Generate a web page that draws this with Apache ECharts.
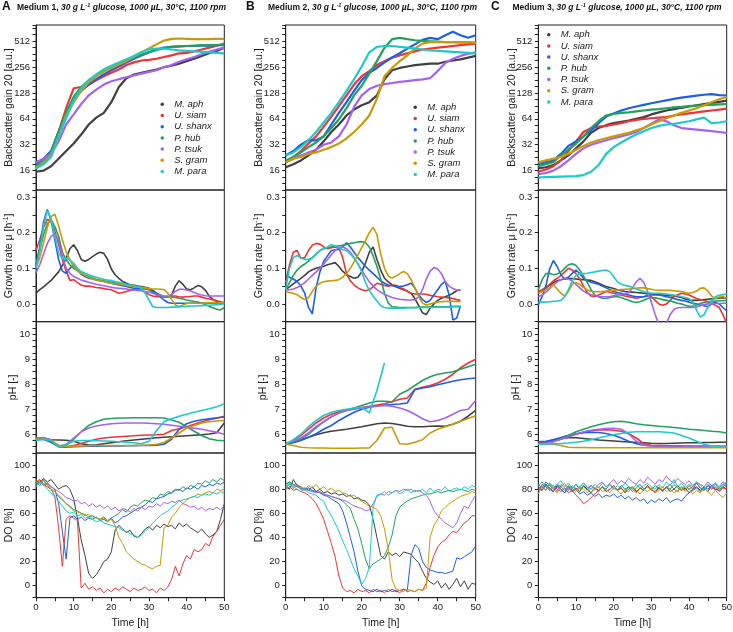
<!DOCTYPE html>
<html><head><meta charset="utf-8">
<script src="https://cdn.jsdelivr.net/npm/echarts@6/dist/echarts.min.js"></script>
<style>html,body{margin:0;padding:0;background:#fff}#c{width:733px;height:632px}</style>
</head><body><div id="c"></div>
<script>
const NAMES = ['M. aph','U. siam','U. shanx','P. hub','P. tsuk','S. gram','M. para'];
const COLORS = ['#404040','#f03434','#1f5ee6','#22a05e','#a561f0','#c99a06','#1ccaca'];
const T2 = Array.from({length:26},(_,i)=>i*2);
const T1 = Array.from({length:51},(_,i)=>i);

// ---------- Medium 1 (A) ----------
const bsA_aph  = [15.5,16,18,22,27,33,42,55,66,75,100,150,190,210,220,230,240,255,265,280,300,320,345,370,395,430];
const bsA_siam = [18,21,26,45,85,145,150,160,180,200,220,240,270,290,305,310,320,335,350,370,375,390,410,430,455,480];
const bsA_shanx= [19,22,27,45,75,110,135,160,185,210,235,260,290,320,350,380,410,430,440,445,450,450,455,455,460,460];
const bsA_hub  = [18,21,26,45,75,115,150,180,205,230,255,280,305,330,355,380,405,425,440,445,450,455,460,460,462,465];
const bsA_tsuk = [20,22,25,35,55,72,95,120,140,160,175,185,195,205,215,225,235,255,270,295,315,335,360,385,410,430];
const bsA_gram = [17,20,24,40,70,100,135,170,200,225,250,275,300,340,380,420,470,520,545,550,545,540,540,540,545,545];
const bsA_para = [17,19,23,40,65,105,145,180,210,240,265,290,315,345,380,410,420,420,410,400,395,390,385,380,375,370];

const grA_aph  = [.030,.040,.048,.057,.066,.078,.090,.108,.128,.155,.166,.150,.125,.120,.125,.133,.140,.145,.142,.125,.098,.082,.072,.063,.058,.054,.052,.050,.049,.047,.044,.038,.030,.025,.020,.020,.025,.050,.065,.055,.042,.040,.045,.052,.048,.038,.022,.012,.007,.004,.002];
const grA_siam = [.150,.180,.215,.238,.232,.205,.168,.125,.092,.066,.068,.060,.053,.050,.050,.048,.046,.045,.043,.041,.040,.035,.030,.032,.035,.038,.040,.040,.038,.032,.026,.022,.020,.021,.020,.020,.022,.022,.020,.019,.020,.021,.022,.022,.019,.016,.014,.012,.009,.006,.004];
const grA_shanx= [.110,.160,.230,.265,.235,.180,.125,.092,.086,.100,.110,.097,.083,.077,.072,.070,.067,.065,.063,.060,.058,.055,.053,.051,.049,.046,.044,.044,.043,.042,.040,.035,.030,.020,.011,.004,.002,.002,.002,.002,.002,.002,.002,.002,.002,.002,.002,.002,.002,.002,.002];
const grA_hub  = [.105,.150,.195,.225,.236,.217,.190,.145,.124,.110,.100,.093,.086,.081,.077,.073,.069,.067,.065,.063,.061,.059,.058,.055,.053,.051,.049,.048,.047,.044,.040,.032,.025,.022,.020,.020,.019,.018,.016,.014,.011,.009,.007,.005,.002,-.002,-.007,-.011,-.015,-.017,-.010];
const grA_tsuk = [.088,.110,.140,.170,.190,.196,.180,.135,.100,.086,.077,.072,.067,.064,.061,.058,.055,.053,.051,.049,.047,.045,.044,.043,.042,.040,.039,.038,.037,.035,.033,.030,.027,.024,.022,.023,.026,.035,.041,.041,.039,.036,.032,.028,.025,.023,.022,.022,.022,.022,.022];
const grA_gram = [.100,.130,.170,.215,.245,.252,.220,.180,.147,.124,.105,.095,.086,.080,.075,.071,.067,.065,.063,.060,.058,.057,.056,.054,.052,.050,.049,.048,.047,.045,.043,.042,.042,.041,.040,.030,.012,-.003,-.007,-.003,.001,.002,.002,.002,.002,.003,.003,.003,.003,.003,.003];
const grA_para = [.100,.150,.220,.262,.240,.190,.142,.128,.128,.124,.114,.100,.091,.086,.082,.078,.075,.072,.069,.067,.066,.063,.061,.058,.055,.053,.051,.048,.044,.030,.011,-.008,-.010,-.010,-.010,-.010,-.009,-.009,-.008,-.008,-.007,-.006,-.006,-.005,-.005,-.004,-.004,-.003,-.002,-.001,.000];

const phA_aph  = [5.80,5.82,5.78,5.77,5.76,5.72,5.62,5.57,5.58,5.62,5.66,5.70,5.74,5.77,5.80,5.83,5.86,5.88,5.90,5.92,5.94,5.96,5.98,6.01,6.06,6.45];
const phA_siam = [5.80,5.82,5.72,5.55,5.50,5.55,5.63,5.72,5.80,5.85,5.88,5.90,5.92,5.94,5.96,5.97,5.98,6.00,6.15,6.22,6.30,6.40,6.50,6.58,6.64,6.72];
const phA_shanx= [5.78,5.80,5.68,5.50,5.48,5.50,5.51,5.52,5.52,5.53,5.53,5.53,5.54,5.54,5.55,5.55,5.56,5.60,5.80,6.20,6.42,6.52,6.58,6.62,6.66,6.69];
const phA_hub  = [5.85,5.85,5.75,5.50,5.55,5.80,6.10,6.35,6.50,6.60,6.63,6.65,6.65,6.66,6.66,6.66,6.66,6.65,6.57,6.48,6.30,6.12,5.95,5.82,5.76,5.74];
const phA_tsuk = [5.85,5.87,5.78,5.52,5.60,5.85,6.10,6.25,6.33,6.38,6.42,6.44,6.45,6.45,6.45,6.44,6.42,6.40,6.36,6.32,6.28,6.24,6.20,6.14,6.08,6.00];
const phA_gram = [5.80,5.82,5.75,5.55,5.50,5.52,5.53,5.54,5.55,5.55,5.55,5.55,5.55,5.56,5.56,5.57,5.60,5.67,5.85,6.05,6.25,6.35,6.45,6.50,6.53,6.55];
const phA_para = [5.75,5.80,5.75,5.50,5.60,5.72,5.75,5.75,5.74,5.73,5.72,5.70,5.68,5.66,5.62,5.72,6.15,6.50,6.62,6.72,6.80,6.88,6.95,7.02,7.10,7.22];

const doA_aph  = [87,85,89,86,88,84,80,82,83,80,72,56,38,25,10,6,9,14,20,22,28,46,50,47,44,46,41,40,43,47,49,46,50,48,51,49,50,47,52,49,51,48,46,44,47,43,40,42,45,55,68];
const doA_siam = [86,88,84,82,80,74,48,16,55,58,56,54,-2,2,-3,-1,-4,-2,-6,-3,-5,-2,-4,-1,-3,-5,-2,-4,-3,-1,-4,-3,-6,-2,-4,-1,5,16,8,18,25,22,30,28,30,35,33,41,45,50,55];
const doA_shanx= [85,87,84,85,82,80,68,45,22,56,58,55,57,54,56,55,57,54,55,53,56,52,54,57,58,60,62,64,65,67,70,69,72,73,74,76,77,79,80,78,81,80,82,80,83,82,84,83,85,84,86];
const doA_hub  = [86,83,88,84,80,78,74,71,68,66,63,62,60,59,57,58,56,55,57,54,56,58,60,63,61,65,67,66,69,71,70,73,72,76,75,78,77,80,79,82,80,83,82,85,84,87,85,88,86,89,87];
const doA_tsuk = [84,86,83,85,82,80,78,76,73,72,70,71,68,69,66,68,65,67,64,66,63,65,62,64,63,61,64,62,65,63,66,65,68,66,69,68,70,69,71,68,67,65,66,63,65,62,64,63,65,63,66];
const doA_gram = [88,85,87,83,80,78,75,72,68,65,62,61,60,58,59,57,56,55,56,54,55,50,40,35,28,25,22,20,18,17,15,14,16,17,48,50,57,60,65,68,71,73,74,76,75,77,78,77,80,79,80];
const doA_para = [82,86,84,80,77,73,70,66,62,60,61,58,59,56,57,55,53,54,52,51,50,49,48,46,45,43,42,40,42,45,48,52,55,58,60,62,65,67,70,71,72,73,74,73,75,76,75,77,76,78,77];

// ---------- Medium 2 (B) ----------
const bsB_aph  = [17.5,19,21,24,28,35,45,55,70,82,92,100,120,185,235,250,260,270,275,280,280,295,305,315,330,345];
const bsB_siam = [20,23,27,33,40,52,68,90,120,160,200,230,270,300,330,350,370,390,410,420,430,440,450,460,470,480];
const bsB_shanx= [24,27,32,36,36,40,55,75,100,135,180,220,250,290,330,370,420,470,530,560,540,600,660,600,560,600];
const bsB_hub  = [21,23,26,30,34,40,50,63,85,120,155,215,300,430,540,560,540,525,515,510,505,500,500,495,495,490];
const bsB_tsuk = [20,22,24,26,28,32,34,40,55,88,120,142,155,162,167,172,176,180,184,190,230,285,320,345,365,380];
const bsB_gram = [20,22,23,25,26,28,30,33,38,45,55,70,110,200,250,300,350,420,480,500,500,500,500,500,500,490];
const bsB_para = [24,26,30,36,45,58,75,100,135,185,260,380,440,450,450,440,430,420,410,400,395,390,385,380,375,370];

const grB_aph  = [.040,.048,.056,.064,.072,.080,.090,.096,.100,.103,.106,.110,.113,.116,.105,.092,.082,.077,.072,.075,.090,.115,.145,.160,.125,.095,.072,.062,.054,.048,.044,.040,.036,.030,.015,-.005,-.025,-.030,-.012,.000,.010,.016,.020,.024,.030,.037,.040,null,null,null,null];
const grB_siam = [.060,.110,.145,.150,.128,.130,.150,.165,.170,.168,.160,.155,.158,.160,.158,.130,.085,.065,.053,.045,.040,.037,.040,.048,.058,.055,.052,.050,.053,.052,.046,.042,.035,.030,.028,.028,.028,.027,.024,.022,.020,.019,.018,.017,.015,.012,.010,null,null,null,null];
const grB_shanx= [.080,.075,.070,.063,.050,.030,-.010,-.028,.045,.090,.120,.135,.150,.152,.153,.160,.172,.160,.145,.130,.118,.105,.095,.085,.075,.065,.058,.053,.051,.050,.049,.050,.054,.058,.045,.025,.012,.004,.010,.025,.040,.055,.063,.025,-.045,-.040,-.005,null,null,null,null];
const grB_hub  = [.040,.060,.080,.095,.105,.112,.120,.130,.140,.150,.156,.158,.160,.162,.163,.165,.167,.170,.172,.174,.175,.172,.160,.135,.105,.070,.030,.002,-.008,-.009,-.010,-.010,-.010,-.010,-.010,-.009,-.009,-.009,-.009,-.008,-.008,-.008,-.008,-.008,-.007,-.007,-.007,null,null,null,null];
const grB_tsuk = [.040,.040,.042,.046,.052,.060,.070,.080,.090,.100,.112,.125,.138,.150,.158,.160,.155,.145,.130,.112,.095,.078,.062,.050,.040,.033,.027,.022,.018,.015,.013,.012,.011,.011,.012,.020,.040,.070,.092,.102,.098,.085,.062,.050,.043,.039,.038,null,null,null,null];
const grB_gram = [.035,.032,.030,.026,.018,.012,.018,.035,.050,.058,.062,.064,.065,.066,.068,.075,.085,.100,.118,.138,.158,.178,.200,.215,.195,.140,.100,.078,.073,.078,.085,.091,.085,.068,.045,.020,.002,-.003,.000,.003,.005,.006,.007,.007,.007,.007,.006,null,null,null,null];
const grB_para = [.040,.100,.130,.136,.130,.125,.125,.130,.140,.150,.155,.160,.166,.163,.158,.152,.150,.140,.128,.114,.090,.060,.038,.022,.008,-.005,-.010,-.012,-.012,-.012,-.012,-.012,-.011,-.011,-.011,-.010,-.010,-.010,-.010,-.010,-.009,-.009,-.009,-.009,-.008,-.008,-.008,null,null,null,null];

const phB_aph  = [5.60,5.68,5.78,5.88,5.98,6.06,6.12,6.16,6.20,6.25,6.30,6.36,6.42,6.45,6.43,6.38,6.32,6.30,6.30,6.32,6.33,6.32,6.40,6.52,6.72,6.95];
const phB_siam = [5.60,5.75,5.95,6.20,6.45,6.65,6.80,6.90,6.97,7.02,7.07,7.12,7.17,7.22,7.30,7.40,7.45,7.80,7.88,7.95,8.05,8.20,8.40,8.65,8.85,9.00];
const phB_shanx= [5.60,5.66,5.75,5.88,6.02,6.20,6.35,6.55,6.72,6.88,7.00,7.08,7.13,7.16,7.19,7.21,7.25,7.78,7.85,7.90,7.98,8.05,8.12,8.18,8.22,8.25];
const phB_hub  = [5.60,5.70,5.82,6.00,6.25,6.50,6.70,6.85,6.95,7.05,7.15,7.25,7.32,7.32,7.30,7.60,7.75,7.95,8.15,8.30,8.40,8.45,8.50,8.60,8.70,8.80];
const phB_tsuk = [5.65,5.72,5.85,6.05,6.30,6.50,6.70,6.85,6.95,7.00,7.05,7.10,7.13,7.15,7.12,7.05,6.95,6.80,6.62,6.50,6.55,6.65,6.80,6.95,7.00,7.35];
const phB_gram = [5.60,5.55,5.48,5.46,5.45,5.45,5.44,5.44,5.44,5.44,5.45,5.45,5.75,6.25,6.28,5.62,5.60,5.68,5.78,6.05,6.20,6.30,6.40,6.52,6.63,6.74];
const phB_para = [5.60,5.78,6.00,6.30,6.55,6.75,6.88,6.95,7.00,7.05,7.08,6.85,7.75,8.85,null,null,null,null,null,null,null,null,null,null,null,null];

const doB_aph  = [82,80,88,83,80,81,79,82,78,80,77,78,76,77,75,76,74,75,72,73,71,70,67,55,40,25,22,28,25,27,24,28,27,26,22,19,12,6,3,1,4,-2,2,-3,1,6,-1,4,-3,2,1];
const doB_siam = [80,82,79,80,78,77,75,72,68,62,55,45,35,24,8,-2,-5,-4,-6,-3,-5,-4,-6,-3,-5,-4,-6,-3,-5,-4,-6,-3,-5,-4,-5,-3,-4,2,15,25,32,36,38,42,45,44,48,52,54,58,58];
const doB_shanx= [84,86,84,83,82,80,81,79,78,77,75,74,72,70,68,62,52,40,28,12,0,-3,-4,-5,-3,-5,-4,-5,-3,-5,-4,-3,-4,25,34,31,20,15,13,12,11,11,10,11,12,23,22,24,26,28,33];
const doB_hub  = [84,86,83,82,81,80,79,78,78,77,76,75,74,73,72,70,67,64,55,47,35,22,14,18,20,22,25,32,42,58,65,68,70,72,73,74,75,76,76,77,78,77,78,79,78,79,80,79,78,80,79];
const doB_tsuk = [82,84,81,83,80,79,81,78,77,78,76,75,74,73,72,71,70,68,66,65,64,62,63,68,74,76,75,78,77,79,78,80,79,80,78,79,77,75,70,62,58,55,52,50,48,52,60,66,64,70,75];
const doB_gram = [82,85,80,84,82,80,83,81,84,80,82,79,81,78,79,77,76,74,75,72,70,68,66,65,63,58,47,30,5,-3,-4,-5,-3,-4,-5,-3,-4,-2,40,50,55,62,65,68,70,72,74,75,76,78,77];
const doB_para = [80,85,82,80,78,80,77,76,75,72,70,63,58,52,45,37,30,22,14,8,1,6,15,65,75,76,78,75,77,79,76,78,80,77,79,78,80,77,81,78,80,79,82,78,80,81,79,82,80,83,82];

// ---------- Medium 3 (C) ----------
const bsC_aph  = [17,17.5,18.5,21,24,29,35,44,50,54,57,59,61,64,67,72,76,80,83,86,89,92,95,98,101,104];
const bsC_siam = [15.5,16.5,18,21,27,35,45,50,52,53,55,57,60,62,64,65,66,67,70,72,74,76,78,80,82,84];
const bsC_shanx= [19,20,21,25,31,35,40,47,57,68,74,80,85,89,93,97,101,105,109,113,116,119,122,124,121,120];
const bsC_hub  = [18,19,20,24,28,33,40,50,60,70,73,75,76,78,80,82,83,85,87,88,90,91,92,93,94,95];
const bsC_tsuk = [14.5,15,16,18,21,25,29,32,34,36,38,40,42,45,50,56,63,60,54,50,49,48,47,46,45,44];
const bsC_gram = [20,21,22,23,25,28,31,34,36,38,40,42,44,47,50,55,60,65,70,75,80,85,92,100,108,115];
const bsC_para = [13.3,13.4,13.5,13.6,13.7,13.8,14.2,15.5,18.5,25,30,34,38,42,46,50,53,55,56,58,60,63,66,57,58,60];

const grC_aph  = [.030,.036,.045,.052,.060,.065,.068,.070,.071,.071,.070,.069,.068,.067,.066,.062,.058,.053,.049,.046,.043,.040,.037,.035,.034,.033,.032,.031,.030,.029,.028,.027,.026,.025,.024,.023,.022,.020,.018,.014,.011,.010,.010,.011,.012,.013,.014,.015,.016,.017,.017];
const grC_siam = [.035,.040,.046,.055,.065,.072,.080,.090,.100,.095,.085,.070,.050,.032,.022,.020,.025,.030,.035,.033,.030,.027,.025,.022,.020,.018,.016,.018,.020,.024,.020,.010,.000,-.004,.000,.010,.020,.026,.030,.028,.025,.020,.015,.012,.010,.006,.002,-.004,-.010,-.030,-.055];
const grC_shanx= [-.003,.020,.050,.098,.122,.105,.082,.070,.075,.086,.095,.085,.072,.065,.061,.058,.055,.050,.045,.040,.035,.032,.030,.027,.025,.022,.020,.020,.020,.022,.025,.025,.025,.023,.020,.018,.015,.012,.010,.008,.005,.002,.000,-.003,-.005,-.008,.000,.005,.000,-.010,-.020];
const grC_hub  = [.040,.068,.085,.086,.082,.084,.090,.100,.110,.113,.108,.095,.078,.060,.040,.025,.020,.016,.015,.018,.020,.020,.018,.014,.010,.006,.004,.006,.010,.015,.018,.017,.015,.012,.010,.008,.005,.002,.000,-.004,-.007,-.006,-.003,.001,.004,.006,.007,.008,.009,.009,.010];
const grC_tsuk = [.020,.025,.033,.043,.053,.062,.068,.072,.070,.064,.055,.045,.036,.030,.026,.023,.021,.020,.020,.021,.023,.025,.026,.028,.032,.045,.062,.072,.060,.035,.005,-.030,-.058,-.065,-.055,-.030,-.016,-.011,-.010,-.010,-.010,-.010,-.009,-.005,-.002,.000,.000,.001,.001,.002,.002];
const grC_gram = [.030,.035,.040,.045,.054,.042,.030,.022,.035,.055,.060,.055,.046,.039,.035,.034,.034,.035,.036,.037,.038,.039,.040,.041,.042,.043,.044,.045,.045,.043,.041,.039,.038,.038,.038,.038,.037,.036,.035,.032,.030,.032,.036,.044,.045,.036,.022,.016,.019,.021,.016];
const grC_para = [.005,.005,.005,.006,.007,.008,.010,.020,.040,.065,.080,.085,.085,.086,.088,.090,.092,.094,.095,.090,.076,.062,.056,.052,.050,.046,.042,.038,.035,.032,.030,.030,.030,.029,.028,.026,.025,.023,.020,.018,.015,.005,-.018,-.037,-.030,-.010,.010,.020,.024,.026,.028];

const phC_aph  = [5.62,5.68,5.78,5.84,5.86,5.86,5.83,5.80,5.77,5.75,5.73,5.71,5.69,5.67,5.66,5.64,5.63,5.63,5.64,5.65,5.66,5.66,5.67,5.67,5.68,5.68];
const phC_siam = [5.65,5.67,5.72,5.80,5.90,6.00,6.08,6.14,6.17,6.18,6.16,6.12,6.02,5.85,5.62,5.56,5.55,5.54,5.54,5.54,5.53,5.53,5.53,5.52,5.52,5.52];
const phC_shanx= [5.70,5.72,5.78,5.87,5.96,6.02,6.06,6.08,6.07,6.03,5.96,5.85,5.72,5.62,5.56,5.54,5.53,5.52,5.52,5.51,5.51,5.50,5.50,5.50,5.50,5.50];
const phC_hub  = [5.62,5.65,5.70,5.82,5.95,6.10,6.20,6.30,6.38,6.45,6.50,6.52,6.48,6.42,6.38,6.35,6.32,6.30,6.27,6.24,6.20,6.18,6.15,6.12,6.10,6.05];
const phC_tsuk = [5.62,5.65,5.70,5.80,5.90,6.00,6.10,6.16,6.20,6.23,6.24,6.20,6.02,5.72,5.56,5.53,5.52,5.52,5.52,5.52,5.52,5.52,5.52,5.52,5.52,5.52];
const phC_gram = [5.60,5.60,5.60,5.55,5.48,5.47,5.47,5.46,5.46,5.46,5.46,5.46,5.46,5.46,5.46,5.46,5.46,5.46,5.46,5.46,5.46,5.46,5.46,5.46,5.46,5.46];
const phC_para = [5.60,5.61,5.62,5.63,5.65,5.68,5.72,5.78,5.85,5.92,5.98,6.03,6.08,6.10,6.10,6.10,6.10,6.08,6.05,5.95,5.85,5.72,5.60,5.53,5.50,5.48];

const doC_aph  = [82,79,84,80,78,83,80,77,82,79,81,78,83,80,77,81,79,82,78,80,83,79,81,77,80,82,78,81,79,83,80,77,81,79,82,78,80,83,79,81,77,80,82,79,81,78,83,80,79,82,80];
const doC_siam = [78,84,82,79,83,80,78,81,77,79,75,72,68,70,73,76,79,82,78,80,83,79,81,78,82,80,77,81,79,83,80,78,82,79,81,84,80,78,82,79,83,80,85,81,79,83,80,82,78,81,80];
const doC_shanx= [82,79,84,81,78,82,80,77,81,78,80,76,78,75,77,74,76,73,75,74,76,73,75,72,74,71,73,70,72,68,71,69,72,70,73,69,71,72,70,74,77,79,81,78,82,80,83,79,81,84,82];
const doC_hub  = [84,81,86,83,80,84,82,79,83,81,84,80,82,79,83,81,78,82,80,84,81,79,83,80,82,78,81,84,80,82,79,83,81,78,82,80,84,81,79,83,80,82,85,81,79,83,81,84,80,82,85];
const doC_tsuk = [80,83,79,85,82,78,84,81,79,83,80,82,85,81,83,80,84,86,82,85,88,84,87,85,89,86,84,88,85,90,87,84,88,86,91,87,85,89,86,84,87,83,86,84,82,86,83,85,82,86,84];
const doC_gram = [76,82,79,84,80,77,82,85,79,81,78,82,80,77,81,79,82,78,80,77,81,79,76,80,78,82,79,76,80,78,81,77,79,82,78,80,77,79,81,78,80,76,79,77,81,78,75,79,76,73,77];
const doC_para = [83,86,82,85,81,84,87,82,85,80,84,81,85,82,80,84,81,85,82,84,80,83,81,85,82,80,84,81,83,85,82,80,84,81,86,83,88,82,85,81,84,82,86,83,80,84,82,85,81,84,86];

const PANELS = [
  [[bsA_aph,bsA_siam,bsA_shanx,bsA_hub,bsA_tsuk,bsA_gram,bsA_para],
   [grA_aph,grA_siam,grA_shanx,grA_hub,grA_tsuk,grA_gram,grA_para],
   [phA_aph,phA_siam,phA_shanx,phA_hub,phA_tsuk,phA_gram,phA_para],
   [doA_aph,doA_siam,doA_shanx,doA_hub,doA_tsuk,doA_gram,doA_para]],
  [[bsB_aph,bsB_siam,bsB_shanx,bsB_hub,bsB_tsuk,bsB_gram,bsB_para],
   [grB_aph,grB_siam,grB_shanx,grB_hub,grB_tsuk,grB_gram,grB_para],
   [phB_aph,phB_siam,phB_shanx,phB_hub,phB_tsuk,phB_gram,phB_para],
   [doB_aph,doB_siam,doB_shanx,doB_hub,doB_tsuk,doB_gram,doB_para]],
  [[bsC_aph,bsC_siam,bsC_shanx,bsC_hub,bsC_tsuk,bsC_gram,bsC_para],
   [grC_aph,grC_siam,grC_shanx,grC_hub,grC_tsuk,grC_gram,grC_para],
   [phC_aph,phC_siam,phC_shanx,phC_hub,phC_tsuk,phC_gram,phC_para],
   [doC_aph,doC_siam,doC_shanx,doC_hub,doC_tsuk,doC_gram,doC_para]]
];
const TIMES = [T2, T1, T2, T1];
const TITLES = ['Medium 1','Medium 2','Medium 3'];
const LETTERS = ['A','B','C'];

// ---------- layout ----------
const FONT = '"Liberation Sans", Arial, sans-serif';
const COLS = [{left:36, width:188.3, letter:2, title:17, lgL:160.5, lgT:98.8},
              {left:285.7, width:190, letter:246, title:268, lgL:413.5, lgT:101.8},
              {left:538.3, width:188.4, letter:491, title:512.5, lgL:547, lgT:29.2}];
const ROWS = [{top:25, height:165}, {top:190, height:131.7}, {top:321.7, height:131.3}, {top:453, height:144.7}];
const isInt = (v, s) => Math.abs(v*s - Math.round(v*s)) < 1e-6;
const YAX = [
  {min:3.25, max:9.625, interval:0.25, fmt: v => isInt(v,1) ? String(Math.pow(2, Math.round(v))) : '',
   name:'Backscatter gain 20 [a.u.]', gap:21, tf: v => Math.log2(v), lw:2.2},
  {min:-0.05, max:0.32, interval:0.05, fmt: v => isInt(v,10) ? (Math.round(v*10)/10).toFixed(1) : '',
   name:'{a|Growth rate μ [h}{s|-1}{a|]}', gap:20, tf: v => v, lw:1.6},
  {min:5.25, max:10.5, interval:0.25, fmt: v => isInt(v,1) ? String(Math.round(v)) : '',
   name:'pH [-]', gap:17, tf: v => v, lw:1.6},
  {min:-10, max:110, interval:10, fmt: v => (isInt(v/20,1) && v >= 0 && v <= 100) ? String(Math.round(v)) : '',
   name:'DO [%]', gap:21, tf: v => v, lw:1}
];

const grid = [], xAxis = [], yAxis = [], series = [], title = [], legend = [];
COLS.forEach((c, ci) => {
  title.push({text: LETTERS[ci], left: c.letter, top: 1, padding: 0,
    textStyle: {fontFamily: FONT, fontSize: 12, fontWeight: 'bold', color: '#111'}});
  title.push({text: '{b|' + TITLES[ci] + '}{n|, }{i|30 g L}{s|-1}{i| glucose, 1000 µL, 30°C, 1100 rpm}',
    left: c.title, top: 2.5, padding: 0,
    textStyle: {fontFamily: FONT, rich: {
      b: {fontFamily: FONT, fontWeight: 'bold', fontSize: 8.5, color: '#111', lineHeight: 10},
      n: {fontFamily: FONT, fontSize: 8.5, color: '#111', lineHeight: 10},
      i: {fontFamily: FONT, fontStyle: 'italic', fontSize: 8.5, color: '#111', lineHeight: 10},
      s: {fontFamily: FONT, fontStyle: 'italic', fontSize: 5.5, color: '#111', lineHeight: 10, verticalAlign: 'top'}
    }}});
  legend.push({data: NAMES, orient: 'vertical', left: c.lgL, top: c.lgT, padding: 0,
    icon: 'circle', itemWidth: 14, itemHeight: 3.5, itemGap: 0.2, selectedMode: false,
    textStyle: {fontFamily: FONT, fontSize: 9.5, fontStyle: 'italic', color: '#222', lineHeight: 11}});
  ROWS.forEach((r, ri) => {
    const idx = grid.length;
    grid.push({left: c.left, width: c.width, top: r.top, height: r.height, show: true,
      borderColor: '#222', borderWidth: 1, backgroundColor: 'transparent',
      containLabel: false, outerBoundsMode: 'none'});
    const bottom = ri === 3;
    xAxis.push({type: 'value', gridIndex: idx, min: 0, max: 50, interval: 5, position: 'bottom',
      axisLine: {show: bottom, onZero: false, lineStyle: {color: '#222', width: 1}}, splitLine: {show: false},
      axisTick: {show: bottom, length: 3.5, lineStyle: {color: '#222', width: 1}},
      axisLabel: {show: bottom, fontFamily: FONT, fontSize: 9.5, color: '#222', margin: 5,
        formatter: v => isInt(v/10,1) ? String(Math.round(v)) : ''},
      name: bottom ? 'Time [h]' : '', nameLocation: 'middle', nameGap: 20,
      nameTextStyle: {fontFamily: FONT, fontSize: 10.5, color: '#222'}});
    const ya = YAX[ri];
    yAxis.push({type: 'value', gridIndex: idx, min: ya.min, max: ya.max, interval: ya.interval, position: 'left',
      axisLine: {show: true, onZero: false, lineStyle: {color: '#222', width: 1}}, splitLine: {show: false},
      axisTick: {show: true, length: 3.5, lineStyle: {color: '#222', width: 1}},
      axisLabel: {fontFamily: FONT, fontSize: 9.5, color: '#222', margin: 6, formatter: ya.fmt,
        showMinLabel: true, showMaxLabel: true, hideOverlap: false},
      name: ya.name, nameLocation: 'middle', nameRotate: 90, nameGap: ya.gap, nameMoveOverlap: false,
      nameTextStyle: {fontFamily: FONT, fontSize: 10.5, color: '#222',
        rich: {a: {fontFamily: FONT, fontSize: 10.5, color: '#222', lineHeight: 13},
               s: {fontFamily: FONT, fontSize: 7, color: '#222', lineHeight: 13, verticalAlign: 'top'}}}});
    const T = TIMES[ri];
    PANELS[ci][ri].forEach((arr, k) => {
      series.push({type: 'line', name: NAMES[k], xAxisIndex: idx, yAxisIndex: idx,
        data: arr.slice(0, T.length).map((v, i) => [T[i], v == null ? null : ya.tf(v)]),
        showSymbol: false, symbol: 'none', connectNulls: false, clip: true, silent: true,
        lineStyle: {width: ya.lw, color: COLORS[k]}, itemStyle: {color: COLORS[k]},
        animation: false});
    });
  });
});

const chart = echarts.init(document.getElementById('c'), null, {renderer: 'canvas'});
chart.setOption({backgroundColor: '#fff', animation: false, textStyle: {fontFamily: FONT},
  title, legend, grid, xAxis, yAxis, series});
</script></body></html>
